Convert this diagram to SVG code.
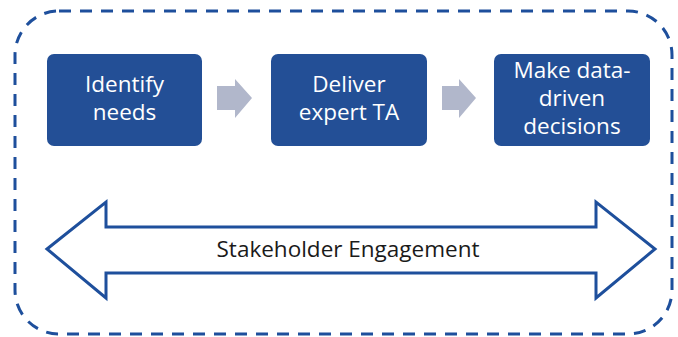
<svg xmlns="http://www.w3.org/2000/svg" width="678" height="337" viewBox="0 0 678 337">
<style>
.box{fill:#234F96;}
.bt{fill:#ffffff;font-family:"Open Sans",sans-serif;font-size:22.5px;text-anchor:middle;}
.step{fill:#B1B7CB;}
.big{fill:#ffffff;stroke:#1E4F9C;stroke-width:3;stroke-linejoin:miter;}
.lbl{fill:#1a1a1a;font-family:"Open Sans",sans-serif;font-size:22.5px;text-anchor:middle;}
</style>
<rect id="frame" x="15" y="11" width="657" height="323" rx="44" ry="44" fill="none" stroke="#1E4F9C" stroke-width="3" stroke-dasharray="12 9"/>
<g id="n1"><rect class="box" x="47" y="54" width="155" height="92" rx="7"/><text class="bt"><tspan x="124.5" y="92">Identify</tspan><tspan x="124.5" y="120">needs</tspan></text></g>
<g id="n2"><rect class="box" x="271" y="54" width="156" height="92" rx="7"/><text class="bt"><tspan x="349" y="92">Deliver</tspan><tspan x="349" y="120">expert TA</tspan></text></g>
<g id="n3"><rect class="box" x="494" y="54" width="156" height="92" rx="7"/><text class="bt"><tspan x="572" y="78">Make data-</tspan><tspan x="572" y="106">driven</tspan><tspan x="572" y="134">decisions</tspan></text></g>
<g id="connectors">
<polygon class="step" points="217,86 235,86 235,79 252,98 235,118 235,110 217,110"/>
<polygon class="step" points="442,86 459,86 459,79 476,98 459,118 459,110 442,110"/>
<polygon class="big" points="47,249 106,202 106,227 596,227 596,202 655,249 596,298 596,273 106,273 106,298"/>
</g>
<text class="lbl" x="348" y="257">Stakeholder Engagement</text>
</svg>
